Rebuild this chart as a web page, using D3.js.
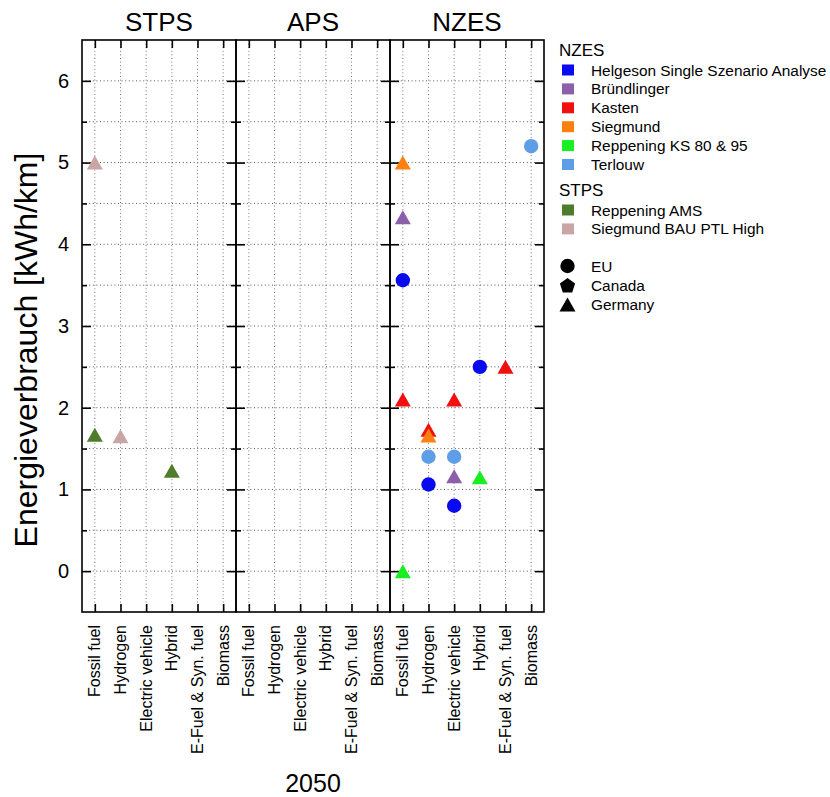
<!DOCTYPE html>
<html>
<head>
<meta charset="utf-8">
<script src="https://cdn.jsdelivr.net/npm/d3@7/dist/d3.min.js"></script>
<style>
  html, body { margin: 0; padding: 0; background: #fff; }
  svg { display: block; font-family: "Liberation Sans", Arial, sans-serif; }
</style>
</head>
<body>
<svg id="chart" width="830" height="797"></svg>
<script>
// Scenario panels and fuel categories on the x axis
const scenarios = ["STPS", "APS", "NZES"];
const categories = ["Fossil fuel", "Hydrogen", "Electric vehicle", "Hybrid", "E-Fuel & Syn. fuel", "Biomass"];
const yTicks = [0, 1, 2, 3, 4, 5, 6];
const regions = ["EU", "Canada", "Germany"];

// Energy use [kWh/km] per category (null = no value), NZES studies
const helgesonEU      = [3.56, 1.06, 0.80, 2.50, null, null];
const bruendlingerDE  = [4.33, null, 1.16, null, null, null];
const kastenDE        = [2.10, 1.73, 2.10, null, 2.50, null];
const siegmundDE      = [5.00, 1.66, null, null, null, null];
const reppeningKsDE   = [0.00, null, null, 1.15, null, null];
const terlouwEU       = [null, 1.40, 1.40, null, null, 5.20];
// STPS studies
const reppeningAmsDE  = [1.67, null, null, 1.23, null, null];
const siegmundBauDE   = [5.00, 1.65, null, null, null, null];

const series = [
  { name: "Helgeson Single Szenario Analyse", scenario: "NZES", region: "EU",      color: "#0a0af0", values: helgesonEU },
  { name: "Bründlinger",                      scenario: "NZES", region: "Germany", color: "#8c5fab", values: bruendlingerDE },
  { name: "Kasten",                           scenario: "NZES", region: "Germany", color: "#f01010", values: kastenDE },
  { name: "Siegmund",                         scenario: "NZES", region: "Germany", color: "#fb8010", values: siegmundDE },
  { name: "Reppening KS 80 & 95",             scenario: "NZES", region: "Germany", color: "#18ee22", values: reppeningKsDE },
  { name: "Terlouw",                          scenario: "NZES", region: "EU",      color: "#5e9ee6", values: terlouwEU },
  { name: "Reppening AMS",                    scenario: "STPS", region: "Germany", color: "#4d7d2a", values: reppeningAmsDE },
  { name: "Siegmund BAU PTL High",            scenario: "STPS", region: "Germany", color: "#c9a5a6", values: siegmundBauDE }
];

const svg = d3.select("#chart");
const plot = { left: 82, right: 544, top: 40, bottom: 612 };

const panel = d3.scaleBand().domain(scenarios).range([plot.left, plot.right]).padding(0);
const y = d3.scaleLinear().domain([-0.5, 6.5]).range([plot.bottom, plot.top]);
const gridY = d3.range(0, 6.01, 0.5);
const minorY = gridY.filter(v => !Number.isInteger(v));

// marker shapes by region
function trianglePath(cx, cy, w, h) {
  return `M${cx},${cy - h / 2}L${cx + w / 2},${cy + h / 2}L${cx - w / 2},${cy + h / 2}Z`;
}
function pentagonPath(cx, cy, r) {
  const pts = d3.range(5).map(i => {
    const a = -Math.PI / 2 + i * 2 * Math.PI / 5;
    return [cx + r * Math.cos(a), cy + r * Math.sin(a) + r * 0.1];
  });
  return "M" + pts.map(p => p.join(",")).join("L") + "Z";
}
function markerPath(region, cx, cy) {
  if (region === "EU") return `M${cx + 7.2},${cy}A7.2,7.2 0 1,1 ${cx - 7.2},${cy}A7.2,7.2 0 1,1 ${cx + 7.2},${cy}Z`;
  if (region === "Canada") return pentagonPath(cx, cy, 8);
  return trianglePath(cx, cy, 16, 14);
}

const xScales = {};
scenarios.forEach((s, i) => {
  const x0 = panel(s), w = panel.bandwidth();
  const x = d3.scalePoint().domain(categories).range([x0, x0 + w]).padding(0.5);
  xScales[s] = x;
  const g = svg.append("g");

  // dotted grid
  g.selectAll("line.gy").data(gridY).join("line")
    .attr("x1", x0).attr("x2", x0 + w)
    .attr("y1", d => y(d)).attr("y2", d => y(d))
    .attr("stroke", "#555").attr("stroke-width", 1).attr("stroke-dasharray", "1,2.6");
  g.selectAll("line.gx").data(categories).join("line")
    .attr("x1", d => x(d)).attr("x2", d => x(d))
    .attr("y1", plot.top).attr("y2", plot.bottom)
    .attr("stroke", "#777").attr("stroke-width", 1).attr("stroke-dasharray", "1,2.6");

  // inward ticks on all four sides
  const tickStyle = sel => {
    sel.select(".domain").remove();
    sel.selectAll(".tick line").attr("stroke", "#000").attr("stroke-width", 1.6);
  };
  g.append("g").attr("transform", `translate(0,${plot.bottom})`)
    .call(d3.axisBottom(x).tickSize(-8).tickFormat("")).call(tickStyle);
  g.append("g").attr("transform", `translate(0,${plot.top})`)
    .call(d3.axisTop(x).tickSize(-8).tickFormat("")).call(tickStyle);

  const left = d3.axisLeft(y).tickValues(yTicks).tickSize(-9).tickPadding(13)
    .tickFormat(i === 0 ? d3.format("d") : "");
  g.append("g").attr("transform", `translate(${x0},0)`).call(left).call(tickStyle)
    .call(a => a.selectAll("text").attr("font-size", 20).attr("fill", "#000")
      .attr("font-family", "Liberation Sans, Arial, sans-serif"));
  g.append("g").attr("transform", `translate(${x0},0)`)
    .call(d3.axisLeft(y).tickValues(minorY).tickSize(-5).tickFormat("")).call(tickStyle);
  g.append("g").attr("transform", `translate(${x0 + w},0)`)
    .call(d3.axisRight(y).tickValues(yTicks).tickSize(-9).tickFormat("")).call(tickStyle);
  g.append("g").attr("transform", `translate(${x0 + w},0)`)
    .call(d3.axisRight(y).tickValues(minorY).tickSize(-5).tickFormat("")).call(tickStyle);

  // frame
  g.append("rect").attr("x", x0).attr("y", plot.top).attr("width", w).attr("height", plot.bottom - plot.top)
    .attr("fill", "none").attr("stroke", "#000").attr("stroke-width", 1.6);

  // panel title
  svg.append("text").attr("x", x0 + w / 2).attr("y", 31).attr("text-anchor", "middle")
    .attr("font-size", 26).text(s);

  // rotated category labels
  g.selectAll("text.cat").data(categories).join("text")
    .attr("transform", d => `translate(${x(d) + 5.5},${plot.bottom + 13}) rotate(-90)`)
    .attr("text-anchor", "end").attr("font-size", 16).text(d => d);
});

// data markers
series.forEach(sr => {
  const x = xScales[sr.scenario];
  const pts = categories.map((c, k) => ({ c, v: sr.values[k] })).filter(p => p.v !== null);
  svg.append("g").selectAll("path").data(pts).join("path")
    .attr("d", p => markerPath(sr.region, x(p.c), y(p.v)))
    .attr("fill", sr.color);
});

// y axis title
svg.append("text")
  .attr("transform", `translate(37,350) rotate(-90)`)
  .attr("text-anchor", "middle").attr("font-size", 32).text("Energieverbrauch [kWh/km]");

// x axis title
svg.append("text").attr("x", (plot.left + plot.right) / 2).attr("y", 792)
  .attr("text-anchor", "middle").attr("font-size", 25).text("2050");

// legend
const lg = svg.append("g");
const groups = [
  { title: "NZES", y: 50, items: series.filter(s => s.scenario === "NZES") },
  { title: "STPS", y: 190, items: series.filter(s => s.scenario === "STPS") }
];
const rowH = 18.9;
groups.forEach(gr => {
  lg.append("text").attr("x", 559).attr("y", gr.y + 6).attr("font-size", 17).text(gr.title);
  gr.items.forEach((it, k) => {
    const cy = gr.y + 20 + k * rowH;
    lg.append("rect").attr("x", 562).attr("y", cy - 5.5).attr("width", 12).attr("height", 11).attr("fill", it.color);
    lg.append("text").attr("x", 591).attr("y", cy + 5.5).attr("font-size", 15.4).text(it.name);
  });
});
regions.forEach((r, k) => {
  const cy = 266 + k * 19.2;
  lg.append("path").attr("d", markerPath(r, 567.5, cy)).attr("fill", "#000");
  lg.append("text").attr("x", 591).attr("y", cy + 5.5).attr("font-size", 15.4).text(r);
});
</script>
</body>
</html>
